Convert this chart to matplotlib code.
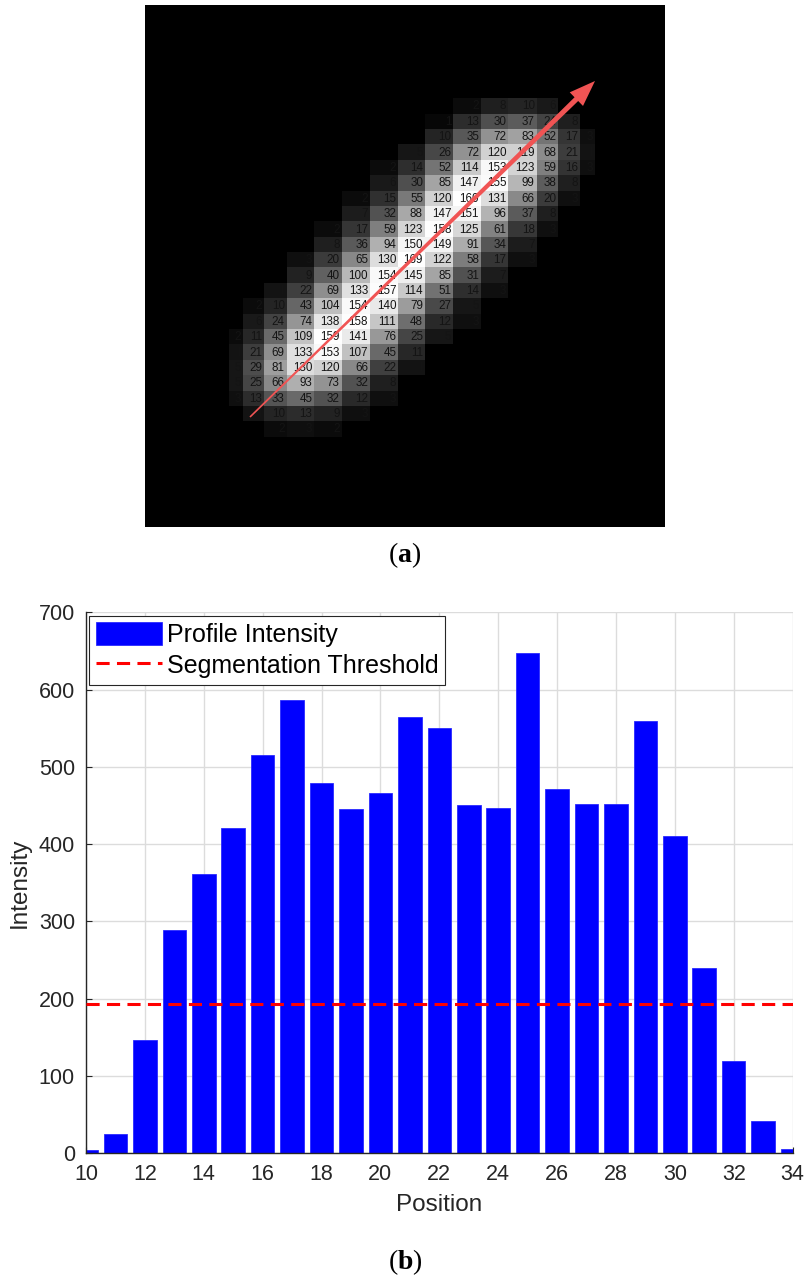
import numpy as np
import matplotlib
matplotlib.use('Agg')
import matplotlib.pyplot as plt
from matplotlib.colors import PowerNorm
from matplotlib.patches import Polygon
from matplotlib.transforms import IdentityTransform

plt.rcParams['font.family'] = ['Liberation Sans', 'DejaVu Sans']
plt.rcParams['mathtext.fontset'] = 'custom'
plt.rcParams['mathtext.rm'] = 'Liberation Serif'
plt.rcParams['mathtext.bf'] = 'Liberation Serif:bold'

# (a) pixel values of the non-zero block of the image (top row first)
pixel_rows = [
    [0, 0, 0, 0, 0, 0, 0, 0, 0, 2, 8, 10, 6, 0, 0],
    [0, 0, 0, 0, 0, 0, 0, 0, 1, 13, 30, 37, 24, 8, 0],
    [0, 0, 0, 0, 0, 0, 0, 0, 10, 35, 72, 83, 52, 17, 3],
    [0, 0, 0, 0, 0, 0, 0, 5, 26, 72, 120, 119, 68, 21, 4],
    [0, 0, 0, 0, 0, 0, 2, 14, 52, 114, 153, 123, 59, 16, 3],
    [0, 0, 0, 0, 0, 0, 6, 30, 85, 147, 155, 99, 38, 8, 0],
    [0, 0, 0, 0, 0, 2, 15, 55, 120, 160, 131, 66, 20, 3, 0],
    [0, 0, 0, 0, 0, 7, 32, 88, 147, 151, 96, 37, 8, 0, 0],
    [0, 0, 0, 0, 2, 17, 59, 123, 158, 125, 61, 18, 3, 0, 0],
    [0, 0, 0, 0, 8, 36, 94, 150, 149, 91, 34, 7, 0, 0, 0],
    [0, 0, 0, 3, 20, 65, 130, 169, 122, 58, 17, 3, 0, 0, 0],
    [0, 0, 0, 9, 40, 100, 154, 145, 85, 31, 7, 0, 0, 0, 0],
    [0, 0, 4, 22, 69, 133, 157, 114, 51, 14, 3, 0, 0, 0, 0],
    [0, 2, 10, 43, 104, 154, 140, 79, 27, 5, 0, 0, 0, 0, 0],
    [0, 6, 24, 74, 138, 158, 111, 48, 12, 3, 0, 0, 0, 0, 0],
    [2, 11, 45, 109, 159, 141, 76, 25, 5, 0, 0, 0, 0, 0, 0],
    [4, 21, 69, 133, 153, 107, 45, 11, 0, 0, 0, 0, 0, 0, 0],
    [5, 29, 81, 130, 120, 66, 22, 4, 0, 0, 0, 0, 0, 0, 0],
    [5, 25, 66, 93, 73, 32, 8, 0, 0, 0, 0, 0, 0, 0, 0],
    [3, 13, 33, 45, 32, 12, 3, 0, 0, 0, 0, 0, 0, 0, 0],
    [0, 4, 10, 13, 9, 3, 0, 0, 0, 0, 0, 0, 0, 0, 0],
    [0, 0, 2, 3, 2, 0, 0, 0, 0, 0, 0, 0, 0, 0, 0],
]

# (b) profile along the arrow
positions = np.arange(10, 35)
intensity = [4, 25, 147, 289, 362, 421, 515, 586, 479, 446, 466, 565, 550,
             451, 447, 647, 472, 452, 452, 560, 410, 240, 120, 42, 6]
threshold = 193

# geometry of the resized image inside the 520 x 522 px panel
col_edges = np.array([84, 98.3, 119.3, 141.7, 169.3, 196.7, 225, 253.3, 280,
                      308.3, 336, 363.3, 391.7, 413.3, 435, 450])
row_top, row_h = 93.3, 15.38
arrow_start = (105, 412)
arrow_end = (450, 76)

block = np.array(pixel_rows, dtype=float)
row_edges = row_top + row_h * np.arange(block.shape[0] + 1)

fig = plt.figure(figsize=(8.1, 12.78), dpi=100)

# ---- top: image with pixel values
ax1 = fig.add_axes([145 / 810, 751 / 1278, 520 / 810, 522 / 1278])
ax1.set_facecolor('black')
ax1.pcolormesh(col_edges, row_edges, block, cmap='gray',
               norm=PowerNorm(0.7, vmin=0, vmax=160, clip=True))
ax1.set_xlim(0, 520)
ax1.set_ylim(522, 0)
ax1.set_xticks([])
ax1.set_yticks([])
for s in ax1.spines.values():
    s.set_visible(False)
for i, j in zip(*np.nonzero(block)):
    ax1.text(col_edges[j + 1] - 2, row_edges[i] + row_h / 2 + 0.5,
             str(int(block[i, j])), ha='right', va='center',
             fontsize=8.4, color='#141414')

# tapered arrow
p0 = ax1.transData.transform(arrow_start)
p1 = ax1.transData.transform(arrow_end)
u = (p1 - p0) / np.hypot(*(p1 - p0))
n = np.array([-u[1], u[0]])
base = p1 - u * 26
pts = [p0 + n * 0.8, base + n * 2.6, base + n * 9.5, p1,
       base - n * 9.5, base - n * 2.6, p0 - n * 0.8]
fig.add_artist(Polygon(pts, closed=True, transform=IdentityTransform(),
                       facecolor='#f05454', edgecolor='none', zorder=5))

fig.text(0.5, 1 - 555 / 1278, r'($\mathbf{a}$)', ha='center', va='center',
         fontsize=20, family='Liberation Serif')

# ---- bottom: intensity profile
ax2 = fig.add_axes([86 / 810, (1278 - 1153.3) / 1278, 706.6 / 810, 541 / 1278])
bars = ax2.bar(positions, intensity, width=0.8, color='#0000ff',
               edgecolor='#2a2aff', linewidth=0.6, label='Profile Intensity',
               zorder=2)
line = ax2.axhline(threshold, color='#ff0000', ls='--', lw=2.2,
                   dashes=(4.3, 2.4), label='Segmentation Threshold', zorder=3)
ax2.set_xlim(10, 34)
ax2.set_ylim(0, 700)
ax2.set_xticks(range(10, 35, 2))
ax2.set_yticks(range(0, 701, 100))
ax2.grid(True, color='#dcdcdc', lw=1)
ax2.set_axisbelow(True)
for s in ['top', 'right']:
    ax2.spines[s].set_visible(False)
for s in ['left', 'bottom']:
    ax2.spines[s].set_color('#262626')
    ax2.spines[s].set_linewidth(1)
ax2.tick_params(direction='in', length=4, labelsize=15.5, colors='#262626', pad=8)
ax2.set_xlabel('Position', fontsize=17.5, color='#262626', labelpad=6)
ax2.set_ylabel('Intensity', fontsize=17.5, color='#262626', labelpad=6)

leg = ax2.legend([bars, line], ['Profile Intensity', 'Segmentation Threshold'],
                 loc='upper left', fontsize=18, frameon=True, fancybox=False,
                 edgecolor='#262626', framealpha=1, handlelength=2.63,
                 handleheight=1.03, handletextpad=0.2, borderpad=0.27,
                 labelspacing=0.23, borderaxespad=0.13)
leg.get_frame().set_linewidth(0.8)

fig.text(0.5, 1 - 1262 / 1278, r'($\mathbf{b}$)', ha='center', va='center',
         fontsize=20, family='Liberation Serif')

fig.savefig('out.png', dpi=100)
